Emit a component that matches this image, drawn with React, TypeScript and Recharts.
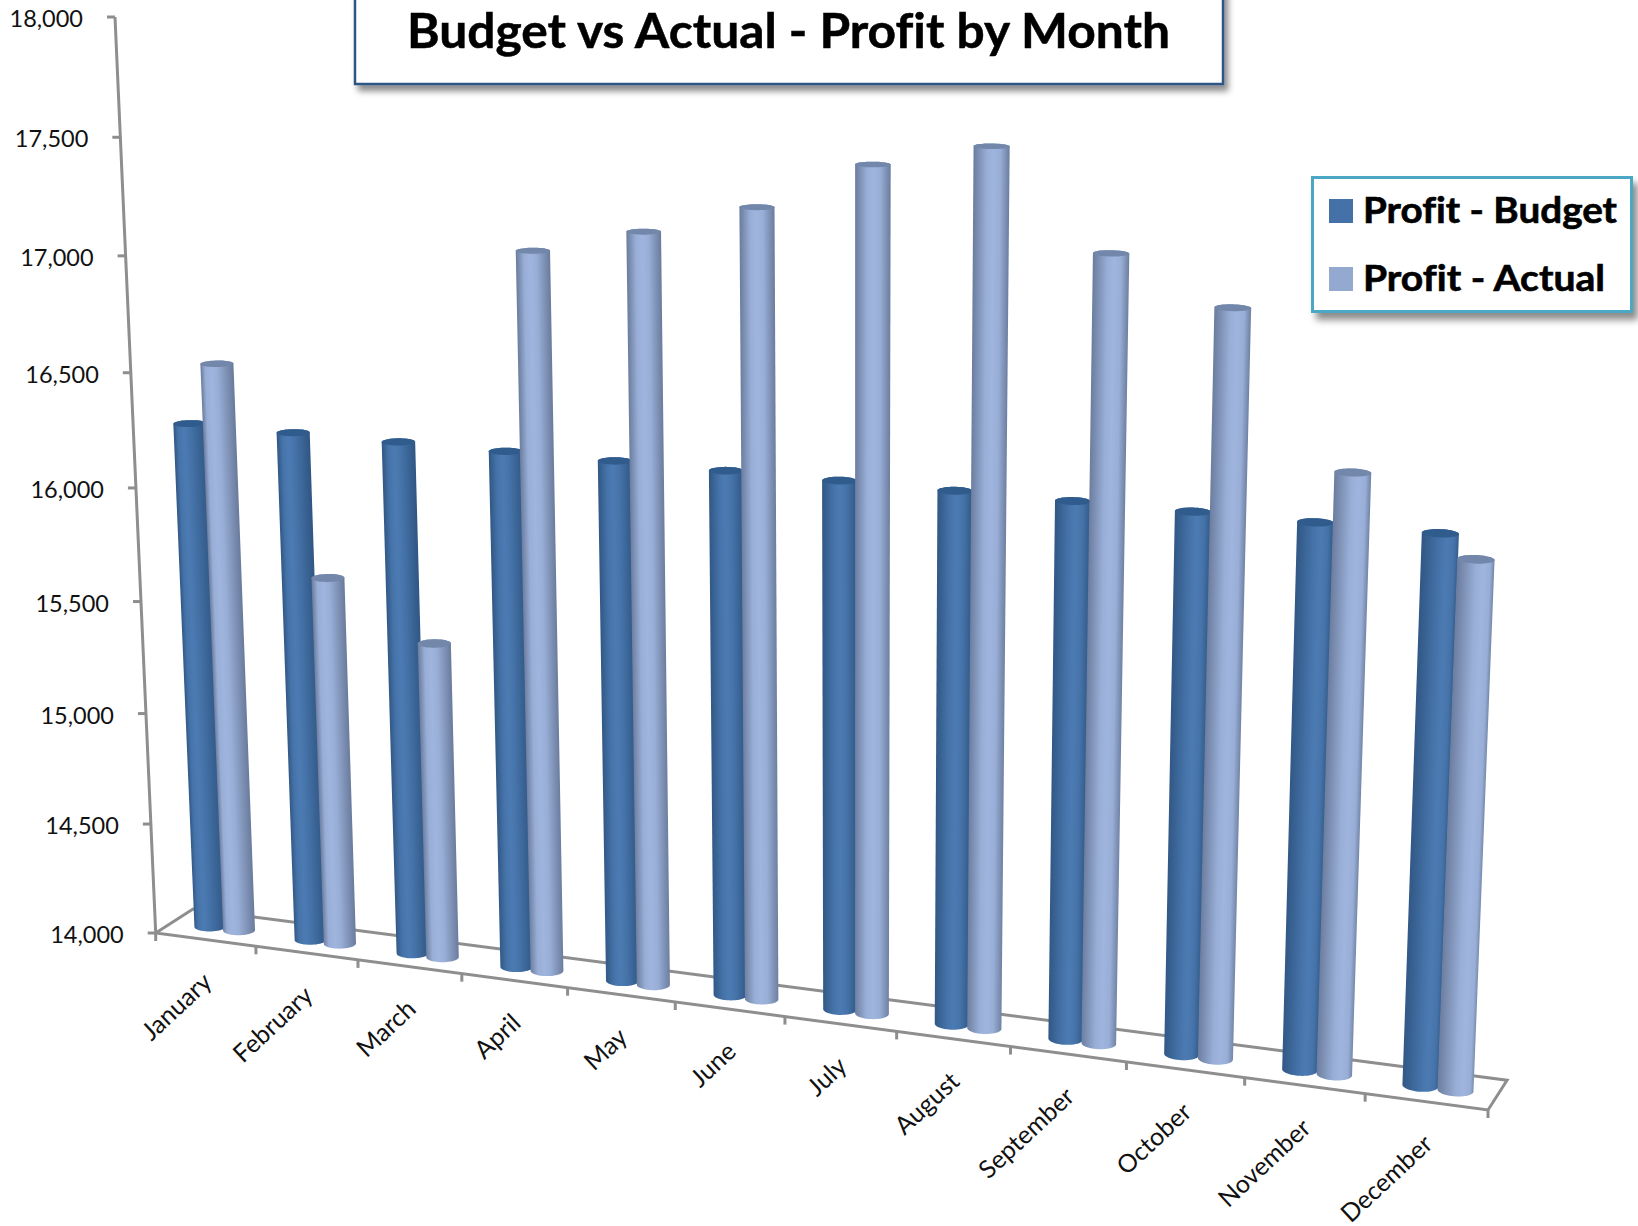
import { BarChart, Bar, XAxis, YAxis, Legend } from "recharts"

const months = ["January", "February", "March", "April", "May", "June", "July", "August", "September", "October", "November", "December"]
const budget = [16260, 16260, 16260, 16260, 16260, 16260, 16260, 16260, 16260, 16260, 16260, 16260]
const actual = [16530, 15640, 15400, 17110, 17220, 17350, 17550, 17650, 17260, 17080, 16470, 16170]
const yTicks = [14000, 14500, 15000, 15500, 16000, 16500, 17000, 17500, 18000]

const chartData = months.map((month, i) => ({ month, budget: budget[i], actual: actual[i] }))

const WIDTH = 1638
const HEIGHT = 1226
const FONT = "Lato, sans-serif"
const AXIS_GREY = "#8e8e8e"

// flat plot rectangle recharts lays the bars out in, the 3D look is applied on top of it
const PLOT = { left: 50, top: 50, width: 1500, height: 1100 }

// camera, fitted to the corners of the original chart
const ORIGIN = [155.7, 933]
const END_U = [1488, 1110]
const END_V = [115, 17]
const END_T = [193, 909]
const C_U = -0.105
const C_V = -0.055
const C_T = 0.0154

type Pt = number[]

function project(u: number, v: number, t: number): Pt {
  const w = 1 + C_U * u + C_V * v + C_T * t
  return [0, 1].map(
    (k) =>
      (ORIGIN[k] +
        (END_U[k] * (1 + C_U) - ORIGIN[k]) * u +
        (END_V[k] * (1 + C_V) - ORIGIN[k]) * v +
        (END_T[k] * (1 + C_T) - ORIGIN[k]) * t) /
      w
  )
}

const toU = (x: number) => (x - PLOT.left) / PLOT.width
const toV = (y: number) => 1 - (y - PLOT.top) / PLOT.height

function hull(points: Pt[]): Pt[] {
  const pts = [...points].sort((a, b) => a[0] - b[0] || a[1] - b[1])
  const cross = (o: Pt, a: Pt, b: Pt) => (a[0] - o[0]) * (b[1] - o[1]) - (a[1] - o[1]) * (b[0] - o[0])
  const half = (list: Pt[]) => {
    const out: Pt[] = []
    for (const p of list) {
      while (out.length >= 2 && cross(out[out.length - 2], out[out.length - 1], p) <= 0) out.pop()
      out.push(p)
    }
    out.pop()
    return out
  }
  return [...half(pts), ...half([...pts].reverse())]
}

const toPoints = (pts: Pt[]) => pts.map((p) => `${p[0].toFixed(2)},${p[1].toFixed(2)}`).join(" ")

const BAR_DEPTH = 0.47
const DEPTH_RADIUS = 0.19
const BAR_NUDGE = 0.0016

const palettes: Record<string, { edge: string; body: string; light: string; cap: string }> = {
  budget: { edge: "#2f5582", body: "#4573a9", light: "#4c7bb3", cap: "#2f5c8d" },
  actual: { edge: "#68799a", body: "#98aed6", light: "#9fb5dd", cap: "#7287aa" },
}

function Cylinder(props: any) {
  const { x, y, width, height, index, series } = props
  if (!height) return null
  const colors = palettes[series]
  const cu = toU(x + width / 2) + BAR_NUDGE
  const ru = width / 2 / PLOT.width
  const top = toV(y)
  const ring = (v: number) =>
    Array.from({ length: 48 }, (_, i) => {
      const a = (i / 48) * Math.PI * 2
      return project(cu + ru * Math.cos(a), v, BAR_DEPTH + DEPTH_RADIUS * Math.sin(a))
    })
  const topRing = ring(top)
  const body = hull([...ring(0), ...topRing])

  const a = project(cu, 0, BAR_DEPTH)
  const b = project(cu, top, BAR_DEPTH)
  const len = Math.hypot(b[0] - a[0], b[1] - a[1])
  const n = [-(b[1] - a[1]) / len, (b[0] - a[0]) / len]
  const side = n[0] < 0 ? -1 : 1
  const nx = n[0] * side
  const ny = n[1] * side
  const mid = [(a[0] + b[0]) / 2, (a[1] + b[1]) / 2]
  const hw = (project(cu + ru, top / 2, BAR_DEPTH)[0] - project(cu - ru, top / 2, BAR_DEPTH)[0]) / 2 + 2
  // the lit stripe moves across the cylinder from left to right of the chart
  const hl = 0.3 + 0.4 * cu
  const id = `cyl-${series}-${index}`

  return (
    <g>
      <defs>
        <linearGradient
          id={id}
          gradientUnits="userSpaceOnUse"
          x1={mid[0] - nx * hw}
          y1={mid[1] - ny * hw}
          x2={mid[0] + nx * hw}
          y2={mid[1] + ny * hw}
        >
          <stop offset="0" stopColor={colors.edge} />
          <stop offset={hl - 0.18} stopColor={colors.body} />
          <stop offset={hl} stopColor={colors.light} />
          <stop offset={hl + 0.18} stopColor={colors.body} />
          <stop offset="1" stopColor={colors.edge} />
        </linearGradient>
      </defs>
      <polygon points={toPoints(body)} fill={`url(#${id})`} />
      <polygon points={toPoints(topRing)} fill={colors.cap} />
    </g>
  )
}

function YTick({ y, payload }: any) {
  const [px, py] = project(0, toV(y), 0)
  return (
    <g>
      <line x1={px - 8} y1={py} x2={px} y2={py} stroke={AXIS_GREY} strokeWidth={3} />
      <text x={px - 32} y={py + 1} textAnchor="end" dominantBaseline="central" fontFamily={FONT} fontSize={23.5} fill="#111">
        {payload.value.toLocaleString("en-US")}
      </text>
    </g>
  )
}

function XTick({ x, payload }: any) {
  const [px, py] = project(toU(x), 0, 0)
  const lx = px + 1
  const ly = py + 37
  return (
    <text
      x={lx}
      y={ly}
      textAnchor="end"
      dominantBaseline="central"
      fontFamily={FONT}
      fontSize={25}
      fill="#111"
      transform={`rotate(-43 ${lx} ${ly})`}
    >
      {payload.value}
    </text>
  )
}

function Frame() {
  const corners = [project(0, 1, 0), project(0, 0, 0), project(1, 0, 0), project(1, 0, 1), project(0, 0, 1), project(0, 0, 0)]
  return (
    <g fill="none" stroke={AXIS_GREY} strokeWidth={3}>
      <polyline points={toPoints(corners)} />
      {Array.from({ length: months.length + 1 }, (_, i) => {
        const p = project(i / months.length, 0, 0)
        return <line key={i} x1={p[0]} y1={p[1]} x2={p[0]} y2={p[1] + 8} />
      })}
    </g>
  )
}

function LegendBox({ payload }: any) {
  return (
    <div
      style={{
        width: 322,
        height: 137,
        boxSizing: "border-box",
        background: "#fff",
        border: "3px solid #4aa8c4",
        boxShadow: "5px 7px 7px rgba(0,0,0,0.45)",
      }}
    >
      <svg width={316} height={131} style={{ display: "block" }}>
        {(payload || []).map((entry: any, i: number) => (
          <g key={entry.value}>
            <rect x={15} y={20 + i * 68} width={24} height={24} fill={entry.color} />
            <text
              x={49}
              y={44 + i * 68}
              fontFamily={FONT}
              fontWeight={700}
              fontSize={36}
              fill="#000"
              stroke="#000"
              strokeWidth={0.6}
              textLength={i === 0 ? 254 : 242}
              lengthAdjust="spacingAndGlyphs"
              style={{ fontVariantLigatures: "none" }}
            >
              {entry.value}
            </text>
          </g>
        ))}
      </svg>
    </div>
  )
}

export default function App() {
  return (
    <div style={{ position: "absolute", left: 0, top: 0, width: WIDTH, height: HEIGHT, background: "#fff" }}>
      <BarChart
        width={WIDTH}
        height={HEIGHT}
        data={chartData}
        margin={{ left: PLOT.left - 1, top: PLOT.top, right: WIDTH - PLOT.left - PLOT.width, bottom: HEIGHT - PLOT.top - PLOT.height - 1 }}
        barCategoryGap="21%"
        barGap={0}
      >
        <defs>
          <filter id="boxShadow" x="-5%" y="-20%" width="110%" height="150%">
            <feDropShadow dx="4" dy="6" stdDeviation="3" floodColor="#000" floodOpacity="0.45" />
          </filter>
        </defs>
        <rect x={355} y={-20} width={868} height={104} fill="#fff" stroke="#2f5486" strokeWidth={2.5} filter="url(#boxShadow)" />
        <text
          x={407}
          y={48}
          fontFamily={FONT}
          fontWeight={700}
          fontSize={48}
          fill="#000"
          stroke="#000"
          strokeWidth={0.5}
          textLength={763}
          lengthAdjust="spacingAndGlyphs"
          style={{ fontVariantLigatures: "none" }}
        >
          Budget vs Actual - Profit by Month
        </text>
        <Frame />
        <XAxis dataKey="month" height={1} axisLine={false} tickLine={false} interval={0} tick={XTick} />
        <YAxis width={1} domain={[14000, 18000]} ticks={yTicks} interval={0} axisLine={false} tickLine={false} tick={YTick} />
        <Legend
          layout="horizontal"
          verticalAlign="middle"
          align="center"
          itemSorter={null}
          content={LegendBox}
          wrapperStyle={{ left: 1311, top: 175.5, width: 322, height: 137 }}
        />
        <Bar
          dataKey="budget"
          name="Profit - Budget"
          fill="#4472a8"
          isAnimationActive={false}
          shape={(p: any) => <Cylinder {...p} series="budget" />}
        />
        <Bar
          dataKey="actual"
          name="Profit - Actual"
          fill="#94a9d0"
          isAnimationActive={false}
          shape={(p: any) => <Cylinder {...p} series="actual" />}
        />
      </BarChart>
    </div>
  )
}
